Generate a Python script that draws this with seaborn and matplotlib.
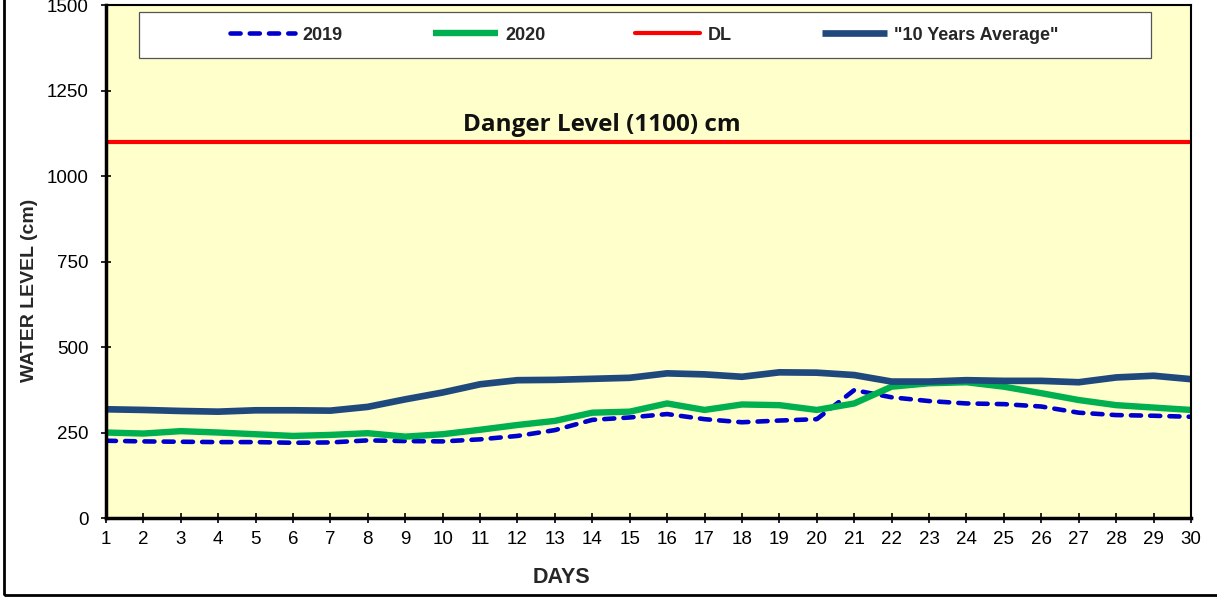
import pandas as pd
import matplotlib.pyplot as plt
import seaborn as sns
from matplotlib.patches import Rectangle

days = list(range(1, 31))
level_2019 = [226, 224, 223, 222, 222, 220, 221, 227, 225, 224,
              230, 240, 257, 287, 294, 304, 289, 280, 285, 289,
              374, 353, 342, 335, 333, 326, 308, 301, 299, 296]
level_2020 = [250, 247, 254, 250, 245, 240, 243, 248, 238, 245,
              258, 272, 284, 308, 311, 335, 316, 332, 330, 316,
              335, 384, 394, 397, 384, 365, 345, 330, 323, 316]
avg_10yr = [318, 316, 313, 311, 315, 315, 314, 325, 347, 367,
            391, 403, 404, 407, 410, 423, 420, 413, 426, 425,
            418, 399, 399, 403, 401, 401, 397, 411, 416, 406]
danger_level = 1100

sns.set_theme(style="white")
plt.rcParams['font.family'] = ['Liberation Sans', 'DejaVu Sans']

df = pd.DataFrame({"day": days, "2019": level_2019, "2020": level_2020,
                   "avg": avg_10yr})

fig = plt.figure(figsize=(12.17, 5.97), dpi=100)
ax = fig.add_axes([0.087, 0.1323, 0.8916, 0.8593])
ax.set_facecolor("#FFFFCC")

sns.lineplot(data=df, x="day", y="2019", ax=ax, color="#0000CC", lw=3.3,
             linestyle=(0, (2.2, 2.0)), dash_capstyle="round", label="2019")
sns.lineplot(data=df, x="day", y="2020", ax=ax, color="#00B050", lw=4.6,
             solid_capstyle="butt", label="2020")
ax.axhline(danger_level, color="#FF0000", lw=3.0, label="DL")
sns.lineplot(data=df, x="day", y="avg", ax=ax, color="#1F497D", lw=4.8,
             solid_capstyle="butt", label='"10 Years Average"')

ax.text(14.26, danger_level + 33, "Danger Level (1100) cm", ha="center",
        va="baseline", fontsize=17.5, fontweight="bold", color="#111111",
        family="Open Sans")

ax.set_xlim(1, 30)
ax.set_ylim(0, 1500)
ax.set_xticks(days)
ax.set_yticks([0, 250, 500, 750, 1000, 1250, 1500])
ax.tick_params(axis="both", direction="inout", length=7, width=1.2,
               labelsize=13.5, colors="black", bottom=True, left=True)
ax.tick_params(axis="y", pad=9)
ax.tick_params(axis="x", pad=6)
ax.set_xlabel("DAYS", fontsize=15.5, fontweight="bold")
ax.set_ylabel("WATER LEVEL (cm)", fontsize=14, fontweight="bold")
ax.xaxis.set_label_coords(0.4194, -0.115)
ax.yaxis.set_label_coords(-0.070, 0.444)
ax.xaxis.label.set_va("center")
ax.yaxis.label.set_va("center")

for side in ["left", "bottom"]:
    ax.spines[side].set_linewidth(2.5)
    ax.spines[side].set_color("black")
for side in ["top", "right"]:
    ax.spines[side].set_linewidth(1.5)
    ax.spines[side].set_color("black")

# legend box drawn separately (wider than its contents)
ax.add_patch(Rectangle((0.0304, 0.8967), 0.9327, 0.0897, transform=ax.transAxes,
                       facecolor="white", edgecolor="#555555", lw=0.9, zorder=4))
leg = ax.legend(loc="center", bbox_to_anchor=(0.4963, 0.9415), ncol=4,
                frameon=False, borderpad=0.2, handlelength=3.6,
                columnspacing=5.0, handletextpad=0.4,
                prop={"weight": "bold", "size": 13})
leg.set_zorder(5)

# outer chart frame (cropped on top and right)
fig.patches.append(Rectangle((0.003, 0.003), 1.5, 1.5, transform=fig.transFigure,
                             fill=False, edgecolor="black", lw=2, zorder=0))

fig.savefig("out.png", dpi=100)
